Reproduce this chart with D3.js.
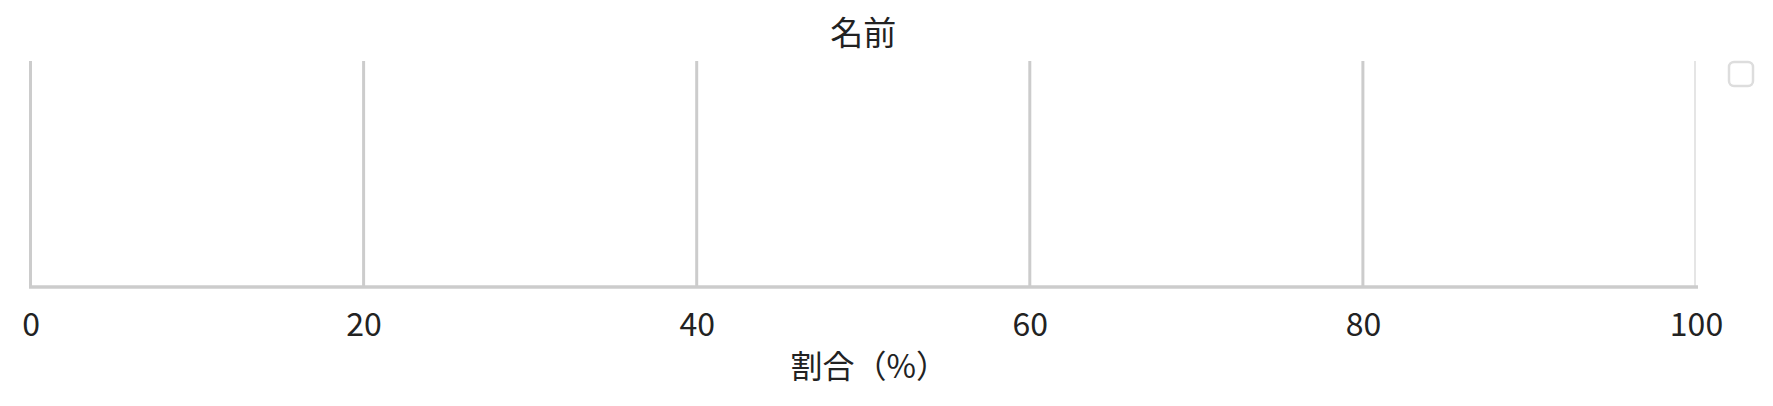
<!DOCTYPE html>
<html>
<head>
<meta charset="utf-8">
<script src="https://cdn.jsdelivr.net/npm/d3@7"></script>
<style>
  html, body { margin: 0; padding: 0; background: #fff; }
  svg { display: block; }
  text { font-family: "Noto Sans CJK JP", "Noto Sans", sans-serif; fill: #222; }
</style>
</head>
<body>
<svg id="chart" width="1773" height="406"></svg>
<script>
// ---- data ----
const categories = [];            // no category rows in the reference
const seriesNames = [""];         // one legend entry, with no visible label
const seriesValues = [[]];        // no values
const xTicks = [0, 20, 40, 60, 80, 100];
const titleText = "名前";
const xLabelText = "割合（%）";

// ---- layout ----
const W = 1773, H = 406;
const margin = { left: 30.5, right: 77, top: 61, bottom: 119 };
const svg = d3.select("#chart");
const x = d3.scaleLinear().domain([0, 100]).range([margin.left, W - margin.right]);
const y = d3.scaleBand().domain(categories).range([margin.top, H - margin.bottom]).padding(0.2);
const plotBottom = H - margin.bottom;

svg.append("clipPath").attr("id", "clip")
  .append("rect").attr("x", margin.left - 3).attr("y", margin.top)
  .attr("width", x(100) - margin.left + 2.5).attr("height", plotBottom - margin.top);

// gridlines
svg.append("g").attr("clip-path", "url(#clip)")
  .selectAll("line").data(xTicks).join("line")
  .attr("x1", d => x(d)).attr("x2", d => x(d))
  .attr("y1", margin.top).attr("y2", plotBottom)
  .attr("stroke", "#cccccc").attr("stroke-width", 3);

// bars (none in data)
seriesValues.forEach((vals, si) => {
  svg.append("g").selectAll("rect").data(vals).join("rect")
    .attr("x", x(0)).attr("y", (d, i) => y(categories[i]))
    .attr("width", d => x(d) - x(0)).attr("height", y.bandwidth())
    .attr("fill", "#5b8ff9");
});

// x axis
const xAxis = d3.axisBottom(x).tickValues(xTicks).tickSize(0).tickPadding(26).tickFormat(d3.format("d"));
const gx = svg.append("g").attr("transform", `translate(0,${plotBottom})`).call(xAxis);
gx.select(".domain").attr("stroke", "#cccccc").attr("stroke-width", 3.5)
  .attr("d", `M${x(0) - 1.5},0H${x(100) + 2}`);
gx.selectAll("text").style("font-size", "32px").style("fill", "#222")
  .style("font-family", "\"Noto Sans CJK JP\", sans-serif");

// title
svg.append("text").attr("x", (x(0) + x(100)) / 2).attr("y", 45)
  .attr("text-anchor", "middle").style("font-size", "33px").text(titleText);

// x label
svg.append("text").attr("x", (x(0) + x(100)) / 2 + 6).attr("y", 378)
  .attr("text-anchor", "middle").style("font-size", "32px").text(xLabelText);

// legend
const lg = svg.append("g").selectAll("g").data(seriesNames).join("g")
  .attr("transform", (d, i) => `translate(1729,${62 + i * 36})`);
lg.append("rect").attr("width", 24).attr("height", 24).attr("rx", 5)
  .attr("fill", "#fff").attr("stroke", "#dddddd").attr("stroke-width", 2.5);
lg.append("text").attr("x", 32).attr("y", 20).style("font-size", "28px").text(d => d);
</script>
</body>
</html>
